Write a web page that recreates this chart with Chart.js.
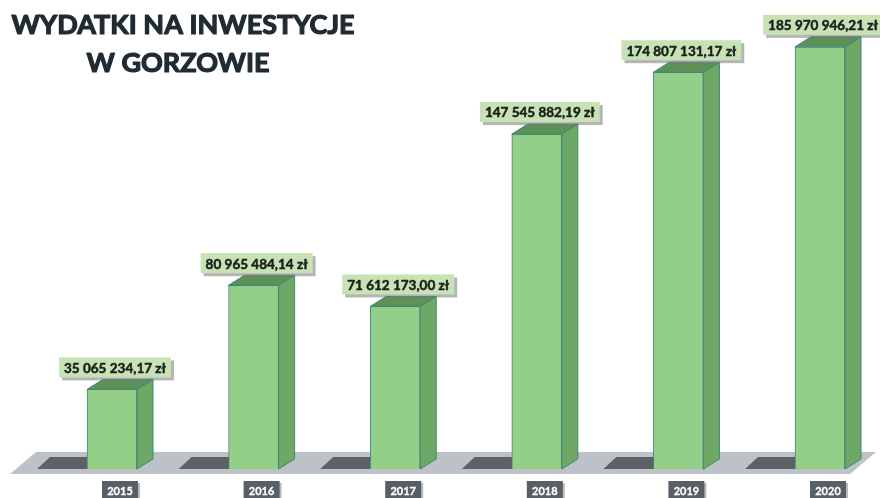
<!DOCTYPE html>
<html>
<head>
<meta charset="utf-8">
<script src="https://cdn.jsdelivr.net/npm/chart.js@4"></script>
<style>
  html, body { margin: 0; padding: 0; background: #fff; }
  canvas { display: block; }
</style>
</head>
<body>
<canvas id="invChart" width="880" height="498"></canvas>
<script>
const years = ['2015', '2016', '2017', '2018', '2019', '2020'];
const spending = [35065234.17, 80965484.14, 71612173.00, 147545882.19, 174807131.17, 185970946.21];
const titleLines = ['WYDATKI NA INWESTYCJE', 'W GORZOWIE'];

const DX = 16, DY = -10;

function formatZl(v) {
  const parts = v.toFixed(2).split('.');
  return parts[0].replace(/\B(?=(\d{3})+(?!\d))/g, ' ') + ',' + parts[1] + ' zł';
}

function poly(ctx, pts, fill, stroke) {
  ctx.beginPath();
  ctx.moveTo(pts[0][0], pts[0][1]);
  for (let i = 1; i < pts.length; i++) ctx.lineTo(pts[i][0], pts[i][1]);
  ctx.closePath();
  ctx.fillStyle = fill;
  ctx.fill();
  if (stroke) { ctx.strokeStyle = stroke; ctx.lineWidth = 1; ctx.stroke(); }
}

// fill plus a thin stroke so the text looks as heavy as the original
function boldText(ctx, txt, x, y, color, weight) {
  ctx.fillStyle = color;
  ctx.strokeStyle = color;
  ctx.lineWidth = weight;
  ctx.lineJoin = 'round';
  ctx.strokeText(txt, x, y);
  ctx.fillText(txt, x, y);
}

const bars3d = {
  id: 'bars3d',
  beforeDatasetsDraw(chart) {
    const ctx = chart.ctx;
    const meta = chart.getDatasetMeta(0);
    const base = meta.data[0].base;
    ctx.save();
    // floor
    poly(ctx, [[10, base + 5], [850, base + 5], [876, base - 17], [36, base - 17]], '#bcc2c7');
    // shadows left of each bar
    meta.data.forEach(bar => {
      const l = bar.x - bar.width / 2;
      poly(ctx, [[l - 50, base], [l, base], [l + 13, base - 12], [l - 37, base - 12]], '#5d6166');
    });
    ctx.restore();
  },
  afterDatasetsDraw(chart) {
    const ctx = chart.ctx;
    const meta = chart.getDatasetMeta(0);
    ctx.save();
    meta.data.forEach((bar, i) => {
      const l = bar.x - bar.width / 2, r = bar.x + bar.width / 2;
      const t = bar.y, b = bar.base;
      poly(ctx, [[r, t], [r + DX, t + DY], [r + DX, b + DY], [r, b]], '#6fa866', '#3f8577');
      poly(ctx, [[l, t], [l + DX, t + DY], [r + DX, t + DY], [r, t]], '#5e9158', '#3f8577');

      // value label
      const txt = formatZl(spending[i]);
      ctx.font = 'bold 13.5px Lato, "DejaVu Sans", sans-serif';
      const w = ctx.measureText(txt).width + 10;
      const h = 20;
      const cx = bar.x + 3;
      const by = t - 12 - h;
      ctx.fillStyle = 'rgba(120,120,120,0.55)';
      ctx.fillRect(cx - w / 2 + 3, by + 3, w, h);
      ctx.fillStyle = '#c7e3b6';
      ctx.fillRect(cx - w / 2, by, w, h);
      ctx.textAlign = 'center';
      ctx.textBaseline = 'middle';
      boldText(ctx, txt, cx, by + h / 2 + 1, '#1b1f1c', 0.5);
    });
    ctx.restore();
  },
  afterDraw(chart) {
    const ctx = chart.ctx;
    const xs = chart.scales.x;
    ctx.save();
    // title
    ctx.textAlign = 'center';
    ctx.textBaseline = 'alphabetic';
    ctx.font = 'bold 27px Lato, "Open Sans", sans-serif';
    boldText(ctx, titleLines[0], 183, 34, '#1f2a31', 1.2);
    boldText(ctx, titleLines[1], 178, 72, '#1f2a31', 1.2);
    // year labels
    years.forEach((y, i) => {
      const cx = xs.getPixelForValue(i) + 7;
      ctx.fillStyle = 'rgba(120,120,120,0.5)';
      ctx.fillRect(cx - 17 + 2, 481 + 2, 36, 19);
      ctx.fillStyle = '#585f66';
      ctx.fillRect(cx - 17, 481, 36, 19);
      ctx.font = 'bold 11px Lato, "DejaVu Sans", sans-serif';
      ctx.textBaseline = 'middle';
      boldText(ctx, y, cx + 1, 491, '#ffffff', 0.3);
    });
    ctx.restore();
  }
};

new Chart(document.getElementById('invChart').getContext('2d'), {
  type: 'bar',
  data: {
    labels: years,
    datasets: [{
      label: 'Wydatki',
      data: spending,
      backgroundColor: '#93cf87',
      borderColor: '#3f8577',
      borderWidth: 1,
      barThickness: 50,
      clip: false
    }]
  },
  options: {
    responsive: false,
    animation: false,
    layout: { padding: { left: 112, right: 60, top: 15, bottom: 29 } },
    plugins: {
      legend: { display: false },
      tooltip: { enabled: false },
      title: { display: false }
    },
    scales: {
      x: { display: false, offset: false },
      y: { display: false, min: 0, max: 200000000 }
    }
  },
  plugins: [bars3d]
});
</script>
</body>
</html>
